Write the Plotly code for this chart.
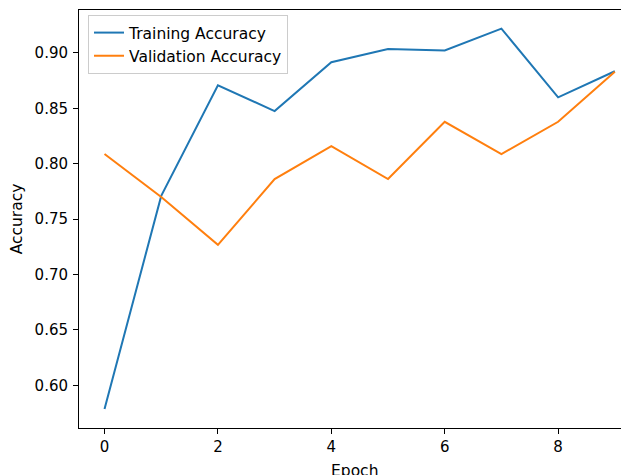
import plotly.graph_objects as go

epochs = list(range(10))
train_acc = [0.5786, 0.771, 0.8708, 0.8476, 0.8916, 0.9036, 0.9022, 0.9220, 0.8600, 0.8835]
val_acc = [0.8088, 0.770, 0.7268, 0.7862, 0.8160, 0.7862, 0.8379, 0.8088, 0.8379, 0.8830]
y_ticks = [0.60, 0.65, 0.70, 0.75, 0.80, 0.85, 0.90]
x_ticks = [0, 2, 4, 6, 8]

FONT = "DejaVu Sans"

fig = go.Figure()
fig.add_trace(go.Scatter(x=epochs, y=train_acc, mode="lines", name="Training Accuracy",
                         line=dict(color="#1f77b4", width=2)))
fig.add_trace(go.Scatter(x=epochs, y=val_acc, mode="lines", name="Validation Accuracy",
                         line=dict(color="#ff7f0e", width=2)))

# page body has an 8px margin, so the figure is shrunk/shifted accordingly
fig.update_layout(
    width=621, height=467,
    margin=dict(l=71, r=0, t=2, b=47, autoexpand=False),
    paper_bgcolor="white", plot_bgcolor="white",
    font=dict(family=FONT, size=15, color="black"),
    showlegend=True,
    legend=dict(x=0.0164, y=0.988, xanchor="left", yanchor="top",
                bgcolor="rgba(255,255,255,0.8)", bordercolor="#cccccc", borderwidth=1,
                font=dict(family=FONT, size=15.5, color="black"),
                tracegroupgap=0, itemwidth=30),
    xaxis=dict(range=[-0.45, 9.25], tickvals=x_ticks, ticks="outside", ticklen=5,
               tickcolor="black", showline=True, linecolor="black", linewidth=1,
               mirror=True, showgrid=False, zeroline=False, automargin=False),
    yaxis=dict(range=[0.5615, 0.9388], tickvals=y_ticks, tickformat=".2f",
               ticks="outside", ticklen=5, tickcolor="black", showline=True,
               linecolor="black", linewidth=1, mirror=False, showgrid=False,
               zeroline=False, ticklabelstandoff=2,
               title=dict(text="Accuracy", standoff=18, font=dict(size=15.5)),
               automargin=False),
    annotations=[dict(text="Epoch", xref="paper", yref="paper", x=0.5, y=0,
                      xanchor="center", yanchor="top", yshift=-32, showarrow=False,
                      font=dict(family=FONT, size=15.5, color="black"))],
)

fig.write_html("out.html")
